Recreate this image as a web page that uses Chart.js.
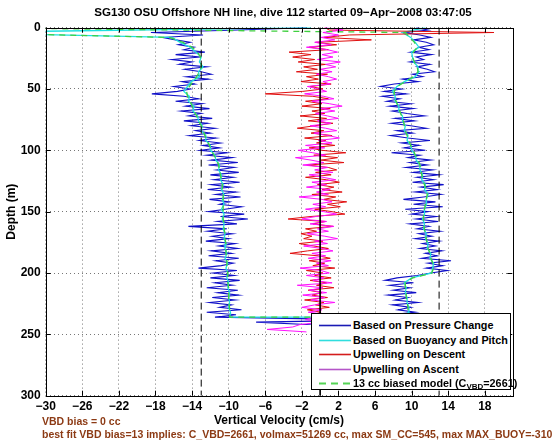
<!DOCTYPE html>
<html>
<head>
<meta charset="utf-8">
<script src="https://cdn.jsdelivr.net/npm/chart.js@4.4.0/dist/chart.umd.min.js"></script>
<style>
  body { margin: 0; background: #fff; }
  #wrap { position: relative; width: 560px; height: 442px; font-family: "Liberation Sans", Arial, sans-serif; font-weight: bold; }
  #title { position: absolute; left: 50px; width: 466px; top: 5px; text-align: center; font-size: 11.6px; }
  .note { position: absolute; left: 42px; font-size: 10.5px; color: #8c3a14; white-space: nowrap; }
  #legend { position: absolute; left: 311px; top: 313px; width: 198px; height: 75px; border: 1px solid #000; background: #fff; font-size: 10.8px; }
  .row { position: absolute; left: 0; height: 14px; line-height: 14px; white-space: nowrap; }
  .swatch { position: absolute; left: 6px; top: 6px; }
  .lbl { position: absolute; left: 41px; top: 0; }
  sub { font-size: 8px; vertical-align: -2px; line-height: 0; }
</style>
</head>
<body>
<div id="wrap">
  <canvas id="plot" width="560" height="442"></canvas>
  <div id="title">SG130 OSU Offshore NH line, dive 112 started 09&#8722;Apr&#8722;2008 03:47:05</div>
  <div class="note" style="top:415px">VBD bias = 0 cc</div>
  <div class="note" style="top:428px">best fit VBD bias=13 implies: C_VBD=2661, volmax=51269 cc, max SM_CC=545, max MAX_BUOY=-310</div>
  <div id="legend"></div>
</div>
<script>
// depth grid: fine series every 2 m, smooth series every 4 m
const fineStep = 2;
const coarseStep = 4;

const xTicks = [-30, -26, -22, -18, -14, -10, -6, -2, 2, 6, 10, 14, 18];
const yTicks = [0, 50, 100, 150, 200, 250, 300];
const xRange = [-30, 21];
const depthRange = [0, 300];
const biasLines = [-13, 13];
const zeroLine = 0;

const seriesNames = [
  'Based on Pressure Change',
  'Based on Buoyancy and Pitch',
  'Upwelling on Descent',
  'Upwelling on Ascent',
  '13 cc biased model (C<sub>VBD</sub>=2661)'
];

// vertical velocity from pressure change, descent (0..238 m)
const pressDescent = [
  -1.5, -9, -18.5, -12.8, -17.2, -15.8, -14.2, -15.5, -13.8, -14.9,
  -12.6, -15.8, -13.1, -16.2, -14.0, -15.4, -12.4, -14.8, -13.0, -11.9,
  -14.6, -12.2, -15.1, -13.7, -16.0, -14.2, -15.6, -18.4, -14.9, -13.3,
  -15.8, -12.9, -14.7, -12.1, -15.2, -13.0, -14.4, -11.8, -14.9, -12.3,
  -14.1, -11.5, -13.6, -12.0, -14.3, -11.4, -13.2, -10.9, -12.8, -11.0,
  -13.1, -10.2, -12.4, -9.6, -11.9, -9.0, -12.2, -9.4, -11.3, -8.9,
  -12.0, -9.5, -11.6, -8.8, -11.9, -9.8, -12.3, -9.2, -11.4, -8.7,
  -12.1, -9.9, -11.0, -8.6, -10.4, -12.2, -8.3, -10.9, -7.9, -11.2,
  -9.1, -14.4, -10.2, -12.3, -9.6, -11.8, -10.0, -12.5, -9.3, -11.1,
  -9.0, -11.9, -9.7, -12.2, -8.9, -11.4, -9.5, -10.8, -13.3, -9.1,
  -11.7, -9.4, -12.0, -8.8, -11.5, -9.6, -12.4, -9.0, -11.2, -8.9,
  -11.8, -9.3, -12.1, -9.7, -11.0, -8.6, -12.4, -9.2, -11.5, 4.0
];
// ascent (0..242 m), listed by depth
const pressAscent = [
  10.5, 11.8, 9.2, 10.9, 12.1, 10.2, 11.6, 12.4, 10.8, 11.9,
  9.9, 12.2, 10.5, 11.3, 9.8, 12.0, 10.6, 11.7, 12.5, 10.1,
  11.2, 9.0, 10.7, 8.1, 6.6, 8.9, 7.0, 9.4, 6.8, 8.7,
  7.3, 9.9, 7.6, 10.2, 7.9, 9.5, 11.4, 8.2, 10.3, 7.8,
  9.9, 11.6, 8.4, 10.1, 7.7, 9.6, 12.0, 8.9, 10.8, 9.2,
  11.5, 7.8, 10.9, 9.6, 12.1, 9.8, 11.7, 9.4, 12.3, 10.2,
  13.0, 10.6, 12.4, 10.1, 13.5, 11.0, 12.8, 10.4, 13.2, 11.3,
  9.1, 12.6, 10.2, 13.4, 9.3, 11.8, 10.0, 12.7, 10.5, 12.9,
  9.8, 11.9, 10.6, 13.1, 10.8, 12.2, 10.4, 13.0, 11.2, 12.6,
  10.9, 13.3, 11.5, 12.8, 11.1, 14.3, 11.8, 13.4, 11.6, 13.9,
  12.1, 10.6, 8.4, 7.1, 10.2, 7.6, 9.8, 8.0, 10.5, 7.4,
  9.6, 8.2, 10.7, 7.9, 9.9, 8.5, 10.4, 7.7, 9.5, 8.8,
  -7.0, -1.5
];

// buoyancy and pitch model (0..236 m every 4 m)
const buoyDescent = [
  -1.0, -40, -16.2, -15.3, -14.2, -13.6, -13.0, -13.2, -12.8, -13.3,
  -13.2, -14.1, -14.5, -14.9, -14.3, -14.4, -13.8, -13.9, -13.4, -13.3,
  -12.9, -13.0, -12.5, -12.5, -12.0, -12.0, -11.5, -11.4, -11.0, -11.1,
  -10.8, -10.9, -10.6, -10.8, -10.5, -10.7, -10.5, -10.8, -10.5, -10.7,
  -10.5, -10.6, -10.4, -10.5, -10.3, -10.4, -10.2, -10.4, -10.1, -10.3,
  -10.1, -10.2, -10.0, -10.1, -9.9, -10.0, -9.9, -10.0, -9.8, -9.9
];
const buoyAscent = [
  11.5, 9.0, 9.9, 10.4, 10.8, 10.0, 10.1, 10.2, 10.7, 10.8,
  10.4, 9.2, 8.4, 7.9, 8.2, 8.2, 8.6, 8.6, 9.0, 9.0,
  9.3, 9.2, 9.6, 9.5, 9.9, 10.0, 10.4, 10.5, 10.9, 10.9,
  11.2, 11.1, 11.5, 11.4, 11.8, 11.6, 11.6, 11.4, 11.4, 11.2,
  11.4, 11.3, 11.6, 11.5, 11.8, 11.7, 12.1, 12.0, 12.4, 12.3,
  12.2, 10.0, 9.2, 9.4, 9.3, 9.5, 9.5, 9.7, 9.6, 9.5
];

// upwelling = pressure minus buoyancy (0..236 m descent, 0..248 m ascent)
const upwellDescent = [
  0.5, 1.0, 19.0, 3.2, 0.4, 5.6, -0.5, 1.8, -1.2, 0.9,
  -3.4, -1.0, -3.0, -0.6, -2.4, 0.6, -1.8, -0.3, -2.6, 0.8,
  -1.5, -0.2, -2.1, 1.2, -1.1, 0.3, -1.9, -6.0, -0.8, 0.9,
  -1.6, 0.2, -2.0, 1.1, -0.9, 0.5, -2.2, 0.7, -1.3, 1.4,
  -0.6, -2.5, 0.4, -1.0, 1.3, -1.7, 0.6, -0.4, 1.6, -1.2,
  0.2, 2.8, -0.7, 1.9, 0.1, 2.6, -1.4, 0.9, 1.8, -0.5,
  1.2, -1.6, 0.7, 2.1, -0.3, 1.5, 0.2, 2.4, -0.9, 1.7,
  0.4, 2.9, 0.8, 2.2, -0.6, 1.3, 2.7, -1.1, -3.5, 0.6,
  -0.8, 1.4, -1.6, -0.4, -2.1, -0.9, -1.8, 0.3, -2.3, -0.7,
  0.9, -1.4, -3.3, -0.2, 1.1, -1.2, 0.5, -0.8, 1.6, -1.5,
  0.3, -0.6, 1.2, -1.1, 0.7, -0.4, 1.5, -1.3, 0.2, -0.9,
  0.8, -1.7, 0.4, -0.5, 1.0, -1.4, 0.1, -0.8, 0.6
];
const upwellAscent = [
  0.5, 2.5, 0.3, 2.0, 0.1, 1.6, -0.6, 1.2, -1.5, 0.8,
  1.9, 0.2, 1.4, -0.3, 2.2, 0.6, 1.7, 0.0, 1.3, -0.4,
  0.9, 1.8, 0.3, 1.1, -1.4, -0.2, 0.7, -1.7, 0.4, 1.5,
  -0.9, 1.0, 2.4, 0.1, 1.6, -0.5, 0.8, 2.0, -0.3, 1.2,
  -1.1, 0.6, 1.8, -0.7, 0.9, 2.1, -0.2, 1.3, -1.6, 0.5,
  -2.4, -0.8, 0.6, -2.7, -1.0, 0.4, -1.9, 0.8, -0.6, 1.4,
  -1.2, 0.3, 1.7, -0.9, 0.7, -1.5, 1.1, -0.4, 0.9, -2.3,
  0.2, 1.3, -0.8, 0.6, -1.6, 0.4, 1.8, -0.5, -2.0, 0.7,
  -1.1, 1.5, -0.3, 0.9, -1.4, 0.5, 1.9, -0.6, 0.8, -1.8,
  0.2, 1.4, -0.9, 0.6, -1.3, 1.2, -0.4, 0.9, -2.2, 0.1,
  1.0, -1.5, 0.4, -0.8, 1.3, -2.5, 0.3, -1.2, 0.7, -1.9,
  0.5, -1.0, 1.6, -0.6, -2.0, 0.2, -1.3, 1.1, -0.7, -1.6,
  0.3, -2.2, -3.0, -5.8, -1.5
];

// 13 cc biased flight model (0..236 m every 4 m)
const modelDescent = [
  -40, -40, -16.5, -15.0, -14.0, -13.4, -13.1, -13.0, -13.0, -13.2,
  -13.5, -13.9, -14.3, -14.6, -14.5, -14.2, -14.0, -13.8, -13.5, -13.3,
  -13.0, -12.8, -12.6, -12.4, -12.1, -11.9, -11.6, -11.3, -11.1, -11.0,
  -10.9, -10.8, -10.7, -10.7, -10.6, -10.6, -10.6, -10.6, -10.6, -10.6,
  -10.5, -10.5, -10.4, -10.4, -10.3, -10.3, -10.3, -10.2, -10.2, -10.2,
  -10.1, -10.1, -10.1, -10.0, -10.0, -10.0, -10.0, -9.9, -9.9, -9.9
];
const modelAscent = [
  -40, 9.3, 9.8, 10.3, 10.6, 10.2, 10.1, 10.3, 10.6, 10.7,
  10.2, 9.3, 8.4, 8.1, 8.1, 8.3, 8.5, 8.7, 8.9, 9.1,
  9.2, 9.3, 9.5, 9.7, 9.9, 10.2, 10.4, 10.7, 10.9, 11.0,
  11.1, 11.2, 11.4, 11.6, 11.7, 11.6, 11.5, 11.4, 11.3, 11.3,
  11.3, 11.4, 11.5, 11.6, 11.7, 11.8, 12.0, 12.1, 12.3, 12.4,
  12.2, 10.1, 9.3, 9.3, 9.4, 9.4, 9.5, 9.6, 9.6, 9.5
];

const colors = ['#1010c8', '#20e0e0', '#e01010', '#ff10ff', '#40d040'];
const legendColors = ['#1a1ab4', '#30dede', '#d41c1c', '#b455c8', '#55d455'];

function profile(values, step) {
  return values.map((v, i) => ({ x: v, y: i * step }));
}
// descent going down, then ascent coming back up
function dive(down, up, step) {
  return profile(down, step).concat(profile(up, step).reverse());
}
function vline(x) {
  return [{ x: x, y: depthRange[0] }, { x: x, y: depthRange[1] }];
}

const datasets = [
  { data: dive(pressDescent, pressAscent, fineStep), borderColor: colors[0], borderWidth: 1.1, order: 5 },
  { data: dive(buoyDescent, buoyAscent, coarseStep), borderColor: colors[1], borderWidth: 1.3, order: 4 },
  { data: profile(upwellDescent, fineStep), borderColor: colors[2], borderWidth: 1, order: 3 },
  { data: profile(upwellAscent, fineStep), borderColor: colors[3], borderWidth: 1, order: 2 },
  { data: dive(modelDescent, modelAscent, coarseStep), borderColor: colors[4], borderWidth: 1.3, borderDash: [6, 5], order: 1 },
  { data: vline(zeroLine), borderColor: '#000', borderWidth: 1, order: 0 },
  { data: vline(biasLines[0]), borderColor: '#000', borderWidth: 1, borderDash: [7, 4], order: 0 },
  { data: vline(biasLines[1]), borderColor: '#000', borderWidth: 1, borderDash: [7, 4], order: 0 }
].map(d => Object.assign({ showLine: true, pointRadius: 0, tension: 0, fill: false }, d));

const minus = v => String(v).replace('-', '\u2212');

// MATLAB style box with inward ticks
const frame = {
  id: 'frame',
  afterDatasetsDraw(chart) {
    const { ctx, chartArea: a, scales } = chart;
    const len = 5;
    ctx.save();
    ctx.strokeStyle = '#000';
    ctx.lineWidth = 1;
    ctx.beginPath();
    xTicks.forEach(v => {
      const px = Math.round(scales.x.getPixelForValue(v)) + 0.5;
      ctx.moveTo(px, a.bottom); ctx.lineTo(px, a.bottom - len);
      ctx.moveTo(px, a.top); ctx.lineTo(px, a.top + len);
    });
    yTicks.forEach(v => {
      const py = Math.round(scales.y.getPixelForValue(v)) + 0.5;
      ctx.moveTo(a.left, py); ctx.lineTo(a.left + len, py);
      ctx.moveTo(a.right, py); ctx.lineTo(a.right - len, py);
    });
    ctx.stroke();
    ctx.strokeRect(Math.round(a.left) + 0.5, Math.round(a.top) + 0.5,
      Math.round(a.right - a.left), Math.round(a.bottom - a.top));
    ctx.restore();
  }
};

Chart.defaults.font.family = '"Liberation Sans", Arial, sans-serif';
Chart.defaults.font.weight = 'bold';
Chart.defaults.font.size = 12;
Chart.defaults.color = '#000';

new Chart(document.getElementById('plot'), {
  type: 'scatter',
  data: { datasets: datasets },
  options: {
    responsive: false,
    animation: false,
    devicePixelRatio: 1,
    layout: { padding: { top: 27.6, right: 47.7, bottom: 0, left: 0 } },
    plugins: { legend: { display: false }, tooltip: { enabled: false } },
    scales: {
      x: {
        type: 'linear',
        min: xRange[0],
        max: xRange[1],
        afterBuildTicks: s => { s.ticks = xTicks.map(v => ({ value: v })); },
        afterFit: s => { s.height = 46.3; },
        ticks: { padding: 4, callback: minus, autoSkip: false, maxRotation: 0 },
        grid: { color: '#777', drawTicks: false },
        border: { display: false, dash: [1, 3] },
        title: { display: true, text: 'Vertical Velocity (cm/s)', padding: { top: 0, bottom: 14 } }
      },
      y: {
        type: 'linear',
        reverse: true,
        min: depthRange[0],
        max: depthRange[1],
        afterBuildTicks: s => { s.ticks = yTicks.map(v => ({ value: v })); },
        afterFit: s => { s.width = 45.7; },
        ticks: { padding: 5 },
        grid: { color: '#777', drawTicks: false },
        border: { display: false, dash: [1, 3] },
        title: { display: true, text: 'Depth (m)', padding: { top: 4, bottom: 0 } }
      }
    }
  },
  plugins: [frame]
});

// legend drawn as an overlay box inside the axes
const legend = document.getElementById('legend');
seriesNames.forEach((name, i) => {
  const row = document.createElement('div');
  row.className = 'row';
  row.style.top = (4 + i * 14.5) + 'px';
  const dash = i === 4 ? ' stroke-dasharray="7 5"' : '';
  row.innerHTML = '<svg class="swatch" width="34" height="3"><line x1="1" y1="1.5" x2="33" y2="1.5" stroke="' +
    legendColors[i] + '" stroke-width="' + (i === 4 ? 2 : 1.6) + '"' + dash + '/></svg>' +
    '<span class="lbl">' + name + '</span>';
  legend.appendChild(row);
});
</script>
</body>
</html>
